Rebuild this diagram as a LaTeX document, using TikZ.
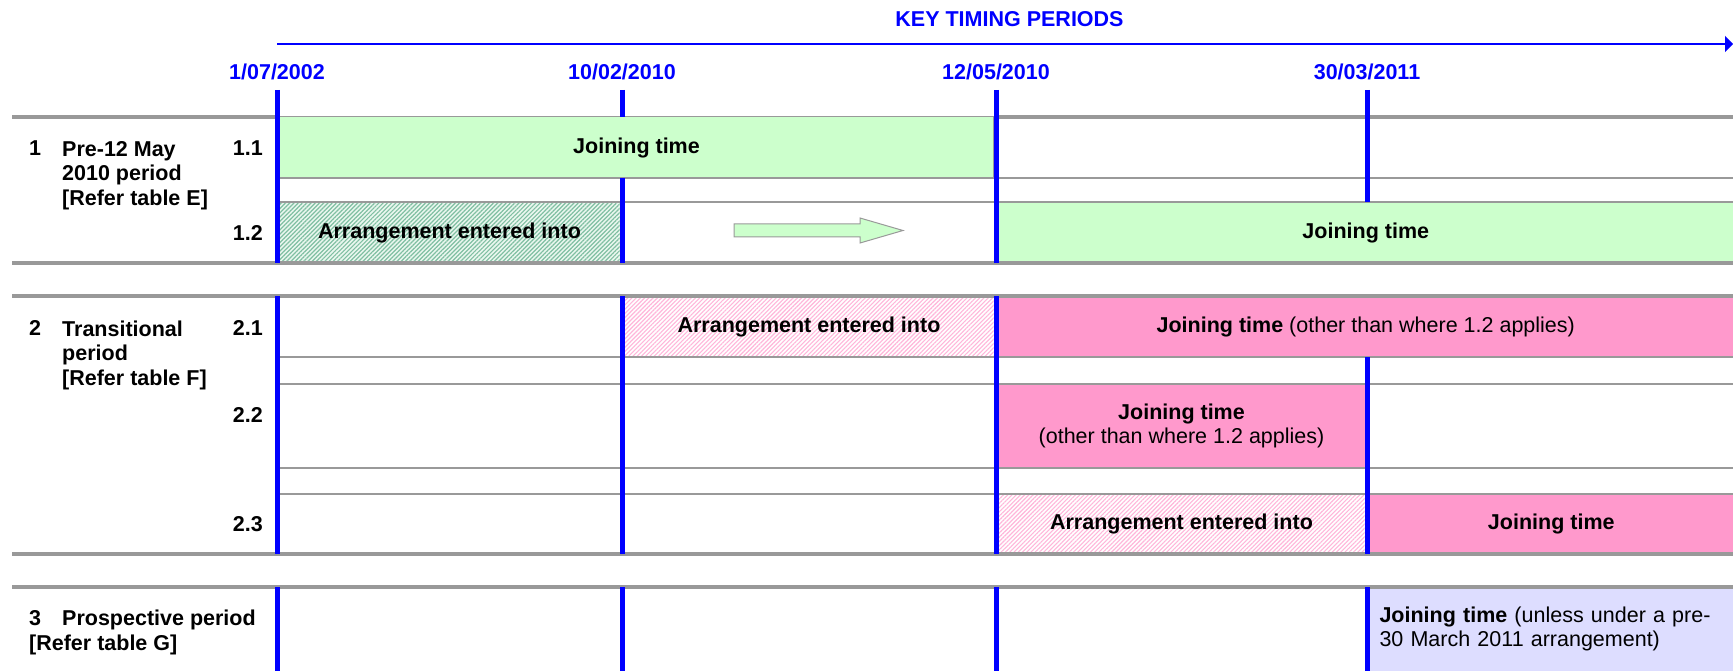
\documentclass[tikz,border=0pt]{standalone}
\usepackage{fontspec}
\setmainfont{Liberation Sans}
\usetikzlibrary{arrows.meta,patterns.meta}

\definecolor{joingreen}{HTML}{CCFFCC}
\definecolor{joinpink}{HTML}{FF99CC}
\definecolor{joinlav}{HTML}{DDDDFF}
\definecolor{rulegray}{HTML}{999999}
\definecolor{hatchgreen}{HTML}{80BFA2}
\definecolor{hatchgreenbg}{HTML}{EAF7EF}
\definecolor{hatchpink}{HTML}{FFB6DA}

\begin{document}
\begin{tikzpicture}[x=1pt, y=-1pt, font=\fontsize{21.5}{24.5}\selectfont\bfseries]
  \tikzstyle{cell}=[inner sep=0pt, outer sep=0pt, draw=none]
  \tikzstyle{greenjoin}=[cell, fill=joingreen]
  \tikzstyle{pinkjoin}=[cell, fill=joinpink]
  \tikzstyle{greenarr}=[cell, preaction={fill=hatchgreenbg}, pattern={Lines[angle=45,distance=3pt,line width=1.2pt]}, pattern color=hatchgreen]
  \tikzstyle{pinkarr}=[cell, preaction={fill=white}, pattern={Lines[angle=45,distance=3pt,line width=1.1pt]}, pattern color=hatchpink]
  \tikzstyle{heavyrule}=[rulegray, line width=4pt]
  \tikzstyle{lightrule}=[rulegray, line width=2pt]
  \tikzstyle{dateline}=[blue, line width=5pt]
  \tikzstyle{datelbl}=[blue, anchor=base, inner sep=0pt]
  \tikzstyle{lbl}=[anchor=base west, inner sep=0pt, align=left]
  \tikzstyle{rowno}=[anchor=base east, inner sep=0pt]

  \useasboundingbox (0,0) rectangle (1733,671);

  % heading and time axis
  \node[blue, anchor=base, inner sep=0pt] (ktp) at (1009.5,27) {KEY TIMING PERIODS};
  \coordinate (ax0) at (277,44);
  \coordinate (ax1) at (1733,44);
  \draw[blue, line width=2pt, -{Triangle[length=8pt,width=16pt]}] (ax0) -- (ax1);

  \node[datelbl] (d1) at (277, 79.7) {1/07/2002};
  \node[datelbl] (d2) at (622, 79.7) {10/02/2010};
  \node[datelbl] (d3) at (996, 79.7) {12/05/2010};
  \node[datelbl] (d4) at (1367,79.7) {30/03/2011};

  % period boxes
  \node[greenjoin, draw=rulegray, line width=1pt, minimum width=714pt, minimum height=61pt] (j11) at (636.5,147.5) {Joining time};
  \node[greenarr,  minimum width=340pt,   minimum height=61pt] (a12) at (449.5,232.5)  {Arrangement entered into};
  \node[greenjoin, minimum width=734.5pt, minimum height=61pt] (j12) at (1365.75,232.5) {Joining time};
  \node[pinkarr,   minimum width=369pt,   minimum height=61pt] (a21) at (809,326.5)    {Arrangement entered into};
  \node[pinkjoin,  minimum width=734.5pt, minimum height=61pt] (j21) at (1365.75,326.5) {Joining time {\mdseries (other than where 1.2 applies)}};
  \node[pinkjoin,  minimum width=366pt,   minimum height=84pt, align=center] (j22) at (1181.5,426) {Joining time\\{\mdseries (other than where 1.2 applies)}};
  \node[pinkarr,   minimum width=366pt,   minimum height=60pt] (a23) at (1181.5,524)   {Arrangement entered into};
  \node[pinkjoin,  minimum width=363.5pt, minimum height=60pt] (j23) at (1551.25,524) {Joining time};
  \node[cell, fill=joinlav, minimum height=84pt, text width=343.5pt, inner xsep=10pt, align=left] (j3) at (1551.25,629)
    {Joining time {\mdseries (unless under a pre-\\30 March 2011 arrangement)}};

  \draw[fill=joingreen, draw=rulegray, line width=1pt]
    (734,224) -- (860,224) -- (860,218) -- (903,230.5) -- (860,243) -- (860,237) -- (734,237) -- cycle;

  % table rules
  \draw[heavyrule] (12,117) -- (277,117) (996,117) -- (1733,117);
  \draw[heavyrule] (12,263) -- (1733,263);
  \draw[heavyrule] (12,296) -- (1733,296);
  \draw[heavyrule] (12,554) -- (1733,554);
  \draw[heavyrule] (12,587) -- (1733,587);
  \draw[lightrule] (277,178) -- (1733,178);
  \draw[lightrule] (277,202) -- (1733,202);
  \draw[lightrule] (277,357) -- (1733,357);
  \draw[lightrule] (277,384) -- (1733,384);
  \draw[lightrule] (277,468) -- (1733,468);
  \draw[lightrule] (277,494) -- (1733,494);

  % key dates
  \draw[dateline] (277,90) -- (277,263) (277,296) -- (277,554) (277,587) -- (277,671);
  \draw[dateline] (622,90) -- (622,117) (622,178) -- (622,263) (622,296) -- (622,554) (622,587) -- (622,671);
  \draw[dateline] (996,90) -- (996,263) (996,296) -- (996,554) (996,587) -- (996,671);
  \draw[dateline] (1367,90) -- (1367,202) (1367,357) -- (1367,554) (1367,587) -- (1367,671);

  % row headings (multi-line labels sit on their last line)
  \node[lbl] (n1) at (29,155.7) {1};
  \node[lbl] (t1) at (62,205.2) {Pre-12 May\\2010 period\\{[}Refer table E{]}};
  \node[rowno] (r11) at (263,155.7) {1.1};
  \node[rowno] (r12) at (263,240.7) {1.2};

  \node[lbl] (n2) at (29,335.7) {2};
  \node[lbl] (t2) at (62,385.2) {Transitional\\period\\{[}Refer table F{]}};
  \node[rowno] (r21) at (263,335.7) {2.1};
  \node[rowno] (r22) at (263,422.7) {2.2};
  \node[rowno] (r23) at (263,531.7) {2.3};

  \node[lbl] (n3)  at (29,625.7) {3};
  \node[lbl] (t3)  at (62,625.7) {Prospective period};
  \node[lbl] (t3b) at (29,650.7) {{[}Refer table G{]}};
\end{tikzpicture}
\end{document}
